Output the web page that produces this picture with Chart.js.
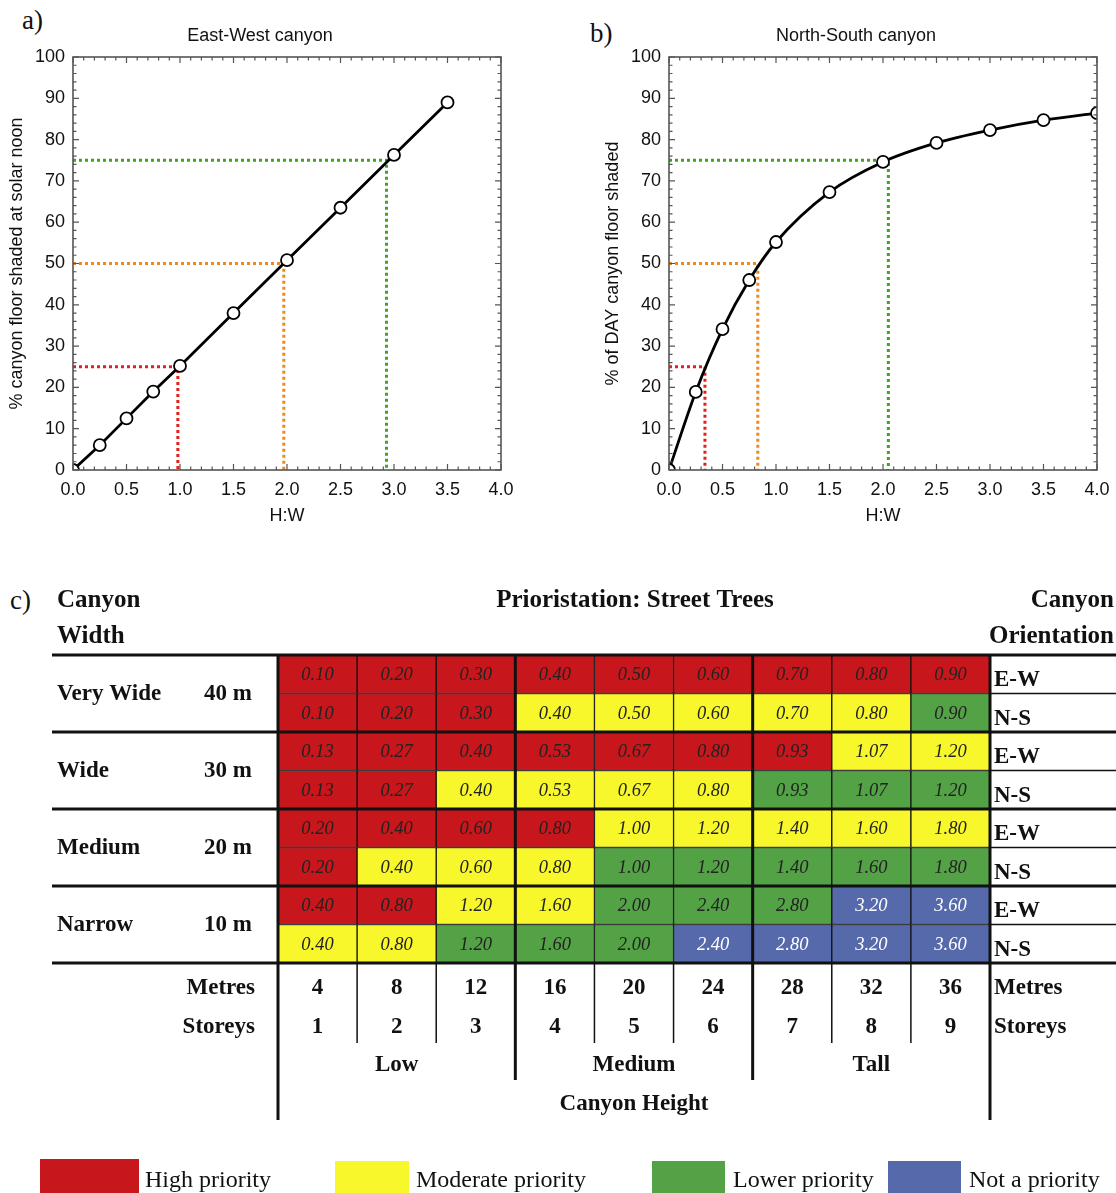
<!DOCTYPE html>
<html>
<head>
<meta charset="utf-8">
<script src="https://cdn.jsdelivr.net/npm/chart.js@4.4.1/dist/chart.umd.min.js"></script>
<style>
    body { margin: 0; background: #fff; }
    #page { position: relative; width: 1116px; height: 1193px; overflow: hidden; }
    .box { position: absolute; }
    .lbl { position: absolute; font-family: "Liberation Serif", "Times New Roman", serif; font-size: 27px; color: #111; line-height: 31px; }
</style>
</head>
<body>
<div id="page">
    <div class="lbl" style="left:22px;top:5px">a)</div>
    <div class="lbl" style="left:590px;top:18px">b)</div>
    <div class="lbl" style="left:10px;top:585px">c)</div>
    <div class="box" style="left:0;top:0"><canvas id="ew" width="520" height="540"></canvas></div>
    <div class="box" style="left:596px;top:0"><canvas id="ns" width="520" height="540"></canvas></div>
    <div class="box" style="left:0;top:580px"><canvas id="tbl" width="1116" height="613"></canvas></div>
</div>
<script>
// ---- panel a / b data ----
var ewHW = [0, 0.25, 0.5, 0.75, 1.0, 1.5, 2.0, 2.5, 3.0, 3.5];
var ewShade = [0, 6, 12.5, 19, 25.2, 38, 50.8, 63.5, 76.3, 89];
var nsHW = [0, 0.25, 0.5, 0.75, 1.0, 1.5, 2.0, 2.5, 3.0, 3.5, 4.0];
var nsShade = [0, 18.9, 34.1, 46, 55.2, 67.3, 74.6, 79.2, 82.3, 84.7, 86.4];

// shade levels and the H:W where each curve reaches them
var levels = [25, 50, 75];
var ewCross = [0.98, 1.97, 2.93];
var nsCross = [0.336, 0.83, 2.05];
var guideColors = ['#e3201b', '#ee8a1c', '#3fa51c'];

// ---- panel c data ----
var metres = [4, 8, 12, 16, 20, 24, 28, 32, 36];
var storeys = [1, 2, 3, 4, 5, 6, 7, 8, 9];
var widthNames = ['Very Wide', 'Wide', 'Medium', 'Narrow'];
var widthMetres = ['40 m', '30 m', '20 m', '10 m'];
var orientations = ['E-W', 'N-S'];
var heightClasses = ['Low', 'Medium', 'Tall'];

var vwRatio = ['0.10', '0.20', '0.30', '0.40', '0.50', '0.60', '0.70', '0.80', '0.90'];
var wRatio = ['0.13', '0.27', '0.40', '0.53', '0.67', '0.80', '0.93', '1.07', '1.20'];
var mRatio = ['0.20', '0.40', '0.60', '0.80', '1.00', '1.20', '1.40', '1.60', '1.80'];
var nRatio = ['0.40', '0.80', '1.20', '1.60', '2.00', '2.40', '2.80', '3.20', '3.60'];

// 0 high, 1 moderate, 2 lower, 3 not a priority
var vwEW = [0, 0, 0, 0, 0, 0, 0, 0, 0];
var vwNS = [0, 0, 0, 1, 1, 1, 1, 1, 2];
var wEW = [0, 0, 0, 0, 0, 0, 0, 1, 1];
var wNS = [0, 0, 1, 1, 1, 1, 2, 2, 2];
var mEW = [0, 0, 0, 0, 1, 1, 1, 1, 1];
var mNS = [0, 1, 1, 1, 2, 2, 2, 2, 2];
var nEW = [0, 0, 1, 1, 2, 2, 2, 3, 3];
var nNS = [1, 1, 2, 2, 2, 3, 3, 3, 3];

var priorityNames = ['High priority', 'Moderate priority', 'Lower priority', 'Not a priority'];
var priorityColors = ['#c8171c', '#f8f72c', '#53a246', '#566aab'];

var sans = '"Liberation Sans", Arial, Helvetica, sans-serif';
var serif = '"Liberation Serif", "Times New Roman", serif';

/**
 * Frame with small inward ticks on all four sides, plus the panel title
 */
var framePlugin = {
    id: 'frame',
    afterDatasetsDraw: (chart, args, options) => {
        var { ctx, chartArea: a } = chart;
        var x = chart.scales.x, y = chart.scales.y;
        ctx.save();
        ctx.strokeStyle = '#555';
        ctx.lineWidth = 1.2;
        ctx.beginPath();
        for (var i = 0; i <= 40; i++) {
            var px = x.getPixelForValue(i / 10);
            var len = i % 5 === 0 ? 6 : 3.5;
            ctx.moveTo(px, a.bottom); ctx.lineTo(px, a.bottom - len);
            ctx.moveTo(px, a.top); ctx.lineTo(px, a.top + len);
        }
        for (var v = 0; v <= 100; v += 2) {
            var py = y.getPixelForValue(v);
            var len2 = v % 10 === 0 ? 6 : 3.5;
            ctx.moveTo(a.left, py); ctx.lineTo(a.left + len2, py);
            ctx.moveTo(a.right, py); ctx.lineTo(a.right - len2, py);
        }
        ctx.stroke();
        ctx.lineWidth = 1.6;
        ctx.strokeRect(a.left, a.top, a.right - a.left, a.bottom - a.top);

        // title
        ctx.fillStyle = '#111';
        ctx.font = '18px ' + sans;
        ctx.textAlign = 'center';
        ctx.textBaseline = 'middle';
        ctx.fillText(options.text, (a.left + a.right) / 2 - 27, 36);
        ctx.restore();
    }
};

function makeShadeChart(id, title, yTitle, xs, ys, cross, smooth) {
    var datasets = [{
        data: xs.map((v, i) => ({ x: v, y: ys[i] })),
        borderColor: '#000',
        borderWidth: 2.8,
        pointRadius: 6,
        pointBackgroundColor: '#fff',
        pointBorderColor: '#000',
        pointBorderWidth: 1.8,
        tension: smooth ? 0.3 : 0,
        cubicInterpolationMode: smooth ? 'monotone' : 'default',
        clip: 0
    }];
    levels.forEach((lv, i) => {
        datasets.push({
            data: [{ x: 0, y: lv }, { x: cross[i], y: lv }, { x: cross[i], y: 0 }],
            borderColor: guideColors[i],
            borderWidth: 3,
            borderDash: [3, 3],
            pointRadius: 0,
            tension: 0
        });
    });

    var tickFont = { family: sans, size: 18 };
    return new Chart(document.getElementById(id), {
        type: 'line',
        data: { datasets: datasets },
        options: {
            responsive: false,
            animation: false,
            layout: { padding: { left: 0, right: 19, top: 57, bottom: 0 } },
            plugins: {
                legend: { display: false },
                tooltip: { enabled: false },
                frame: { text: title }
            },
            scales: {
                x: {
                    type: 'linear', min: 0, max: 4,
                    ticks: { stepSize: 0.5, callback: v => v.toFixed(1), font: tickFont, color: '#111', padding: 1, maxRotation: 0, autoSkip: false },
                    grid: { display: false },
                    border: { display: false },
                    title: { display: true, text: 'H:W', font: tickFont, color: '#111', padding: { top: 4, bottom: 13 } },
                    afterFit: s => { s.height = 70; }
                },
                y: {
                    min: 0, max: 100,
                    ticks: { stepSize: 10, font: tickFont, color: '#111', padding: 0 },
                    grid: { display: false },
                    border: { display: false },
                    title: { display: true, text: yTitle, font: tickFont, color: '#111', padding: { top: 6, bottom: 4 } },
                    afterFit: s => { s.width = 73; }
                }
            }
        },
        plugins: [framePlugin]
    });
}

makeShadeChart('ew', 'East-West canyon', '% canyon floor shaded at solar noon', ewHW, ewShade, ewCross, false);
makeShadeChart('ns', 'North-South canyon', '% of DAY canyon floor shaded', nsHW, nsShade, nsCross, true);

// ---- panel c: priority table drawn as stacked unit bars ----
var tableRows = [
    { ratio: vwRatio, pri: vwEW }, { ratio: vwRatio, pri: vwNS },
    { ratio: wRatio, pri: wEW }, { ratio: wRatio, pri: wNS },
    { ratio: mRatio, pri: mEW }, { ratio: mRatio, pri: mNS },
    { ratio: nRatio, pri: nEW }, { ratio: nRatio, pri: nNS }
];

var tablePlugin = {
    id: 'tableText',
    afterDraw: (chart) => {
        var { ctx, chartArea: a } = chart;
        var colW = (a.right - a.left) / metres.length;
        var rowH = (a.bottom - a.top) / tableRows.length;
        var colX = j => a.left + j * colW;
        var rowY = r => a.top + r * rowH;
        var bold = 'bold 23px ' + serif;
        ctx.save();

        // cell values
        ctx.textAlign = 'center';
        ctx.textBaseline = 'middle';
        ctx.font = 'italic 18.5px ' + serif;
        tableRows.forEach((row, i) => {
            var meta = chart.getDatasetMeta(i);
            meta.data.forEach((el, j) => {
                ctx.fillStyle = row.pri[j] === 3 ? '#fff' : '#222';
                ctx.fillText(row.ratio[j], el.x, (el.y + el.base) / 2 + 1);
            });
        });

        // lines
        ctx.strokeStyle = '#111';
        ctx.lineWidth = 1.5;
        ctx.beginPath();
        for (var r = 1; r < 8; r += 2) {
            ctx.moveTo(a.right, rowY(r)); ctx.lineTo(1116, rowY(r));
        }
        [1, 2, 4, 5, 7, 8].forEach(j => {
            ctx.moveTo(colX(j), a.bottom); ctx.lineTo(colX(j), 463);
        });
        ctx.stroke();

        ctx.lineWidth = 3;
        ctx.beginPath();
        for (var r2 = 0; r2 <= 8; r2 += 2) {
            ctx.moveTo(52, rowY(r2)); ctx.lineTo(1116, rowY(r2));
        }
        [0, 9].forEach(j => { ctx.moveTo(colX(j), a.top); ctx.lineTo(colX(j), 540); });
        [3, 6].forEach(j => { ctx.moveTo(colX(j), a.top); ctx.lineTo(colX(j), 500); });
        ctx.stroke();

        // headers
        ctx.fillStyle = '#111';
        ctx.font = 'bold 25px ' + serif;
        ctx.textAlign = 'left';
        ctx.fillText('Canyon', 57, 21);
        ctx.fillText('Width', 57, 57);
        ctx.textAlign = 'center';
        ctx.fillText('Prioristation: Street Trees', (a.left + a.right) / 2 + 1, 21);
        ctx.textAlign = 'right';
        ctx.fillText('Canyon', 1114, 21);
        ctx.fillText('Orientation', 1114, 57);

        // row labels
        ctx.font = bold;
        widthNames.forEach((name, g) => {
            var cy = rowY(g * 2 + 1) + 1;
            ctx.textAlign = 'left';
            ctx.fillText(name, 57, cy);
            ctx.textAlign = 'right';
            ctx.fillText(widthMetres[g], 252, cy);
        });
        ctx.textAlign = 'left';
        for (var r3 = 0; r3 < 8; r3++) {
            ctx.fillText(orientations[r3 % 2], 994, rowY(r3) + rowH / 2 + 6);
        }

        // height axis
        ctx.textAlign = 'right';
        ctx.fillText('Metres', 255, 408);
        ctx.fillText('Storeys', 255, 447);
        ctx.textAlign = 'left';
        ctx.fillText('Metres', 994, 408);
        ctx.fillText('Storeys', 994, 447);
        ctx.textAlign = 'center';
        metres.forEach((m, j) => {
            ctx.fillText(String(m), colX(j) + colW / 2, 408);
            ctx.fillText(String(storeys[j]), colX(j) + colW / 2, 447);
        });
        heightClasses.forEach((h, k) => {
            ctx.fillText(h, colX(k * 3) + colW * 1.5, 485);
        });
        ctx.fillText('Canyon Height', (a.left + a.right) / 2, 524);

        // legend
        var boxX = [40, 335, 652, 888];
        var boxW = [99, 74, 73, 73];
        var textX = [145, 416, 733, 969];
        ctx.font = '24px ' + serif;
        ctx.textAlign = 'left';
        priorityNames.forEach((p, k) => {
            ctx.fillStyle = priorityColors[k];
            ctx.fillRect(boxX[k], k === 0 ? 579 : 581, boxW[k], 40);
            ctx.fillStyle = '#111';
            ctx.fillText(p, textX[k], 601);
        });
        ctx.restore();
    }
};

new Chart(document.getElementById('tbl'), {
    type: 'bar',
    data: {
        labels: metres.map(String),
        datasets: tableRows.map(row => ({
            data: metres.map(() => 1),
            backgroundColor: row.pri.map(p => priorityColors[p]),
            borderColor: '#111',
            borderWidth: 1,
            borderSkipped: false,
            barPercentage: 1,
            categoryPercentage: 1
        }))
    },
    options: {
        responsive: false,
        animation: false,
        layout: { padding: { left: 278, right: 126, top: 75, bottom: 230 } },
        plugins: { legend: { display: false }, tooltip: { enabled: false } },
        scales: {
            x: { display: false, stacked: true },
            y: { display: false, stacked: true, min: 0, max: 8, reverse: true }
        }
    },
    plugins: [tablePlugin]
});
</script>
</body>
</html>
